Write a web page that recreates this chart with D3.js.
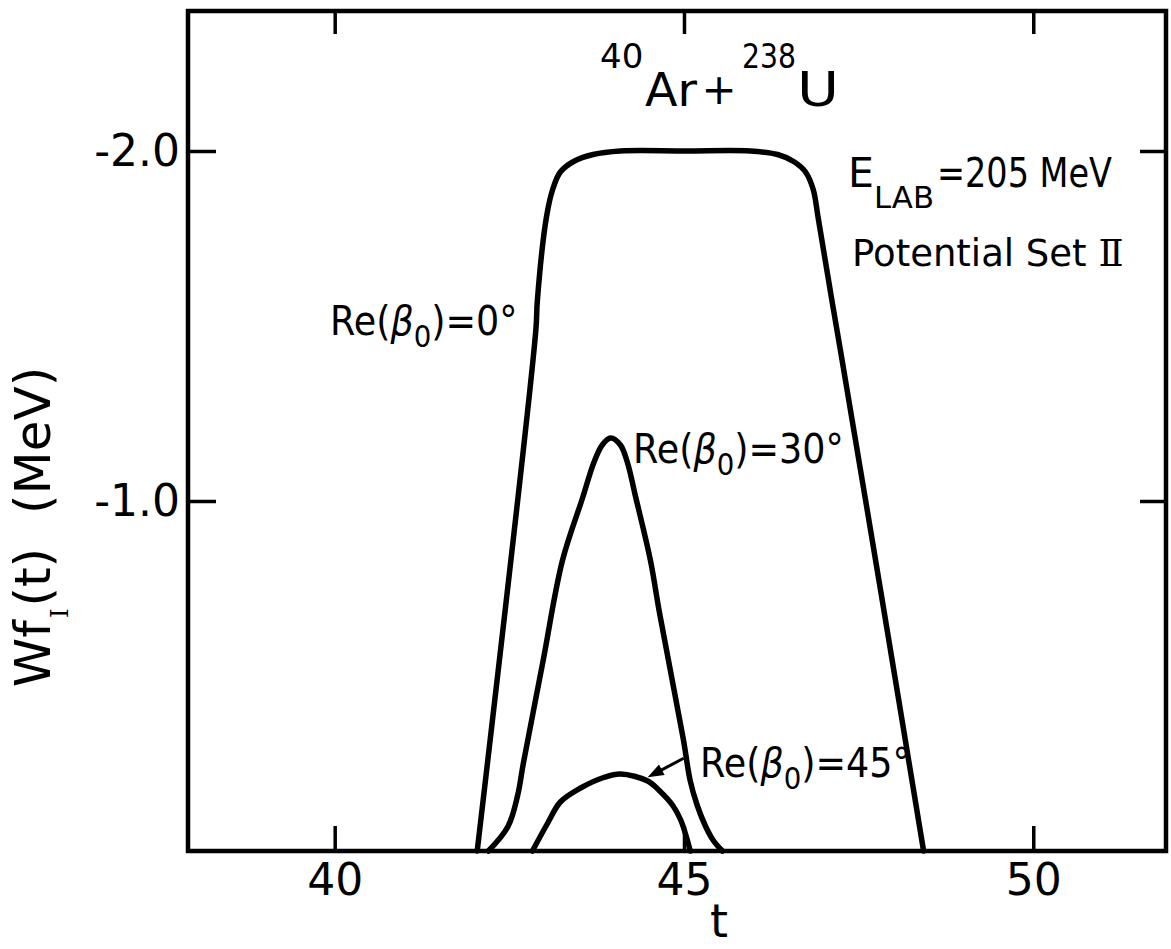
<!DOCTYPE html>
<html>
<head>
<meta charset="utf-8">
<script src="https://cdn.jsdelivr.net/npm/d3@7"></script>
<style>
  html, body { margin: 0; padding: 0; background: #fff; }
  svg { display: block; }
  text { font-family: "DejaVu Sans", sans-serif; fill: #000; }
</style>
</head>
<body>
<svg id="chart" width="1171" height="949"></svg>
<script>
// Axis ticks
const xTicks = [40, 45, 50];
const yTicks = [-2, -1];

// Wf_I(t) for Re(beta0) = 0 deg
const t0 = [42.04, 42.88, 42.90, 43.03, 43.12, 43.23, 43.42, 43.70, 44.09, 45.02, 45.95,
            46.34, 46.57, 46.74, 46.85, 46.92, 47.12, 47.24, 47.81, 48.43];
const w0 = [0, -1.49, -1.57, -1.81, -1.89, -1.94, -1.97, -1.99, -2.00, -2.00, -2.00,
            -1.99, -1.97, -1.94, -1.89, -1.81, -1.57, -1.43, -0.75, 0];

// Wf_I(t) for Re(beta0) = 30 deg
const t30 = [42.20, 42.48, 42.62, 42.70, 42.98, 43.26, 43.55, 43.71, 43.83, 43.95, 44.09,
             44.19, 44.31, 44.52, 44.65, 44.99, 45.09, 45.19, 45.31, 45.42, 45.55];
const w30 = [0, -0.07, -0.16, -0.25, -0.54, -0.83, -1.01, -1.11, -1.16, -1.18, -1.16,
             -1.11, -1.01, -0.83, -0.68, -0.32, -0.20, -0.13, -0.07, -0.03, 0];

// Wf_I(t) for Re(beta0) = 45 deg
const t45 = [42.83, 43.05, 43.23, 43.52, 43.85, 44.09, 44.48, 44.66, 44.84, 44.95, 45.02, 45.09];
const w45 = [0, -0.08, -0.14, -0.18, -0.21, -0.22, -0.20, -0.17, -0.13, -0.09, -0.05, 0];

const series = [
  { t: t0, w: w0 },
  { t: t30, w: w30 },
  { t: t45, w: w45 }
];

const svg = d3.select("#chart");

const x = d3.scaleLinear().domain([37.9, 51.9]).range([188, 1166]);
const y = d3.scaleLinear().domain([0, -2.4]).range([851, 11]);

const [x0, x1] = x.range();
const [yb, yt] = y.range();

// Curves
const line = d3.line()
  .x(d => x(d[0]))
  .y(d => y(d[1]))
  .curve(d3.curveCatmullRom.alpha(0.5));

svg.append("g")
  .selectAll("path")
  .data(series)
  .join("path")
  .attr("d", s => line(s.t.map((t, i) => [t, s.w[i]])))
  .attr("fill", "none")
  .attr("stroke", "#000")
  .attr("stroke-width", 5.5)
  .attr("stroke-linejoin", "round")
  .attr("stroke-linecap", "round");

// Frame
svg.append("rect")
  .attr("x", x0).attr("y", yt)
  .attr("width", x1 - x0).attr("height", yb - yt)
  .attr("fill", "none")
  .attr("stroke", "#000")
  .attr("stroke-width", 4.5);

function styleAxis(g) {
  g.select(".domain").remove();
  g.selectAll(".tick line").attr("stroke", "#000").attr("stroke-width", 3.5);
}

// Bottom axis with labels
svg.append("g")
  .attr("transform", `translate(0,${yb})`)
  .call(d3.axisBottom(x).tickValues(xTicks).tickSizeInner(-25).tickSizeOuter(0).tickFormat(d3.format("d")))
  .call(styleAxis)
  .call(g => g.selectAll(".tick text")
    .attr("y", 44).attr("dy", 0)
    .attr("font-size", 44)
    .attr("font-family", "DejaVu Sans")
    .attr("fill", "#000"));

// Top axis
svg.append("g")
  .attr("transform", `translate(0,${yt})`)
  .call(d3.axisTop(x).tickValues(xTicks).tickSizeInner(-23).tickSizeOuter(0).tickFormat(""))
  .call(styleAxis);

// Left axis with labels
svg.append("g")
  .attr("transform", `translate(${x0},0)`)
  .call(d3.axisLeft(y).tickValues(yTicks).tickSizeInner(-28).tickSizeOuter(0).tickFormat(d => d.toFixed(1)))
  .call(styleAxis)
  .call(g => g.selectAll(".tick text")
    .attr("x", -8).attr("dy", 14)
    .attr("font-size", 44)
    .attr("font-family", "DejaVu Sans")
    .attr("fill", "#000"));

// Right axis
svg.append("g")
  .attr("transform", `translate(${x1},0)`)
  .call(d3.axisRight(y).tickValues(yTicks).tickSizeInner(-26).tickSizeOuter(0).tickFormat(""))
  .call(styleAxis);

// Axis titles
svg.append("text")
  .attr("x", 719).attr("y", 937)
  .attr("text-anchor", "middle")
  .attr("font-size", 46)
  .text("t");

const ylab = svg.append("text")
  .attr("transform", "translate(50,527) rotate(-90)")
  .attr("text-anchor", "middle")
  .attr("font-size", 50);
ylab.append("tspan").text("Wf");
ylab.append("tspan").attr("font-family", "DejaVu Serif").attr("font-size", 24).attr("dx", 2).attr("dy", 18).text("I");
ylab.append("tspan").attr("dx", 2).attr("dy", -18).text("(t)");
ylab.append("tspan").attr("dx", 34).text("(MeV)");

// Reaction title: 40Ar + 238U
const title = svg.append("g");
title.append("text").attr("x", 600).attr("y", 68).attr("font-size", 34).text("40");
title.append("text").attr("x", 645).attr("y", 106).attr("font-size", 47)
  .attr("textLength", 52).attr("lengthAdjust", "spacingAndGlyphs").text("Ar");
title.append("text").attr("x", 719).attr("y", 104).attr("text-anchor", "middle").attr("font-size", 42).text("+");
title.append("text").attr("x", 742).attr("y", 68).attr("font-size", 34)
  .attr("textLength", 54).attr("lengthAdjust", "spacingAndGlyphs").text("238");
title.append("text").attr("x", 797).attr("y", 106).attr("font-size", 48)
  .attr("textLength", 42).attr("lengthAdjust", "spacingAndGlyphs").text("U");

// Beam energy and potential set
const info = svg.append("g");
info.append("text").attr("x", 848).attr("y", 187).attr("font-size", 41).text("E");
info.append("text").attr("x", 874).attr("y", 208).attr("font-size", 30)
  .attr("textLength", 60).attr("lengthAdjust", "spacingAndGlyphs").text("LAB");
info.append("text").attr("x", 937).attr("y", 187).attr("font-size", 40)
  .attr("textLength", 175).attr("lengthAdjust", "spacingAndGlyphs").text("=205 MeV");

const pot = info.append("text").attr("x", 852).attr("y", 266).attr("font-size", 37);
pot.append("tspan").text("Potential Set ");
pot.append("tspan").attr("font-family", "DejaVu Serif").text("\u2161");

// Curve labels Re(beta0) = ...
function betaLabel(px, py, deg) {
  const txt = svg.append("g")
    .attr("transform", `translate(${px},${py}) scale(0.89,1)`)
    .append("text").attr("x", 0).attr("y", 0).attr("font-size", 41);
  txt.append("tspan").text("Re(");
  txt.append("tspan").attr("font-style", "italic").text("\u03B2");
  txt.append("tspan").attr("font-size", 31).attr("dy", 12).text("0");
  txt.append("tspan").attr("dy", -12).text(`)=${deg}\u00B0`);
}
betaLabel(330, 335, 0);
betaLabel(633, 463, 30);
betaLabel(700, 777, 45);

// Arrow from the 45 deg label to its curve
const tipX = x(44.48), tipY = y(-0.205) - 2;
const tailX = tipX + 36, tailY = tipY - 19;
const ang = Math.atan2(tipY - tailY, tipX - tailX);
const ah = 16, aw = 6;
svg.append("line")
  .attr("x1", tailX).attr("y1", tailY)
  .attr("x2", tipX - Math.cos(ang) * 10).attr("y2", tipY - Math.sin(ang) * 10)
  .attr("stroke", "#000").attr("stroke-width", 3);
const bx = tipX - Math.cos(ang) * ah, by = tipY - Math.sin(ang) * ah;
svg.append("path")
  .attr("d", `M${tipX},${tipY} L${bx + Math.sin(ang) * aw},${by - Math.cos(ang) * aw} L${bx - Math.sin(ang) * aw},${by + Math.cos(ang) * aw} Z`)
  .attr("fill", "#000");
</script>
</body>
</html>
